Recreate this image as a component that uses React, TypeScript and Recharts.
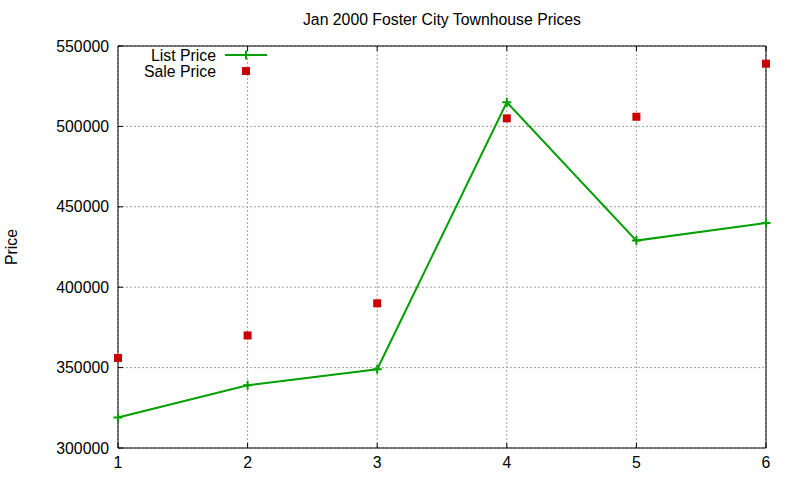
import React from 'react';
import { ComposedChart, Line, Scatter, XAxis, YAxis, CartesianGrid, Legend } from 'recharts';

const houses = [1, 2, 3, 4, 5, 6];
const listPrice = [319000, 339000, 349000, 515000, 429000, 440000];
const salePrice = [356000, 370000, 390000, 505000, 506000, 539000];

const yTicks = [300000, 350000, 400000, 450000, 500000, 550000];

const listData = houses.map((h, i) => ({ house: h, list: listPrice[i] }));
const saleData = houses.map((h, i) => ({ house: h, sale: salePrice[i] }));

const FONT = '"Liberation Sans", Arial, sans-serif';
const GREEN = '#00a000';
const RED = '#cc0000';

const LeftTick = (props: any) => {
    const { x, y, payload } = props;
    return (
        <g>
            <line x1={x} x2={x + 5} y1={y} y2={y} stroke="#000" />
            <text x={x - 9} y={y} textAnchor="end" dominantBaseline="central" fontSize={15.8} fontFamily={FONT} fill="#000">
                {payload.value}
            </text>
        </g>
    );
};

const RightTick = (props: any) => {
    const { x, y } = props;
    return <line x1={x - 5} x2={x} y1={y} y2={y} stroke="#000" />;
};

const BottomTick = (props: any) => {
    const { x, y, payload } = props;
    return (
        <g>
            <line x1={x} x2={x} y1={y - 5} y2={y} stroke="#000" />
            <text x={x} y={y + 14} textAnchor="middle" dominantBaseline="central" fontSize={15.8} fontFamily={FONT} fill="#000">
                {payload.value}
            </text>
        </g>
    );
};

const TopTick = (props: any) => {
    const { x, y } = props;
    return <line x1={x} x2={x} y1={y} y2={y + 5} stroke="#000" />;
};

const PlusDot = (props: any) => {
    const { cx, cy, index } = props;
    return (
        <path
            key={'p' + index}
            d={`M${cx - 4.5},${cy}H${cx + 4.5}M${cx},${cy - 4.5}V${cy + 4.5}`}
            stroke={GREEN}
            strokeWidth={2}
            fill="none"
        />
    );
};

const SquareShape = (props: any) => {
    const { cx, cy } = props;
    return <rect x={cx - 4} y={cy - 4} width={8} height={8} fill={RED} />;
};

const renderLegend = (props: any) => {
    const items = props.payload || [];
    return (
        <svg width={160} height={34}>
            {items.map((entry: any, i: number) => {
                const cy = 9 + i * 16;
                return (
                    <g key={entry.value}>
                        <text x={86} y={cy} textAnchor="end" dominantBaseline="central" fontSize={15.8} fontFamily={FONT} fill="#000">
                            {entry.value}
                        </text>
                        {entry.type === 'square' ? (
                            <rect x={112} y={cy - 4} width={8} height={8} fill={entry.color} />
                        ) : (
                            <path
                                d={`M95,${cy}H137M116,${cy - 4.5}V${cy + 4.5}`}
                                stroke={entry.color}
                                strokeWidth={2}
                                fill="none"
                            />
                        )}
                    </g>
                );
            })}
        </svg>
    );
};

export default function App() {
    return (
        <div style={{ position: 'absolute', left: 0, top: 0, width: 800, height: 480, background: '#fff', fontFamily: FONT }}>
            <div style={{ position: 'absolute', left: 118, top: 11, width: 648, height: 18, lineHeight: '18px', textAlign: 'center', fontSize: 15.8 }}>
                Jan 2000 Foster City Townhouse Prices
            </div>
            <div style={{ position: 'absolute', left: 12, top: 247, width: 0, height: 0 }}>
                <div style={{ position: 'absolute', transform: 'translate(-50%, -50%) rotate(-90deg)', fontSize: 15.8, whiteSpace: 'nowrap', lineHeight: '18px' }}>
                    Price
                </div>
            </div>
            <ComposedChart width={800} height={480} data={listData} margin={{ top: 0, right: 0, bottom: 0, left: 0 }}>
                <CartesianGrid stroke="#a0a0a0" strokeDasharray="2 2" />
                <XAxis
                    dataKey="house"
                    type="number"
                    domain={[1, 6]}
                    ticks={houses}
                    height={32}
                    tickSize={0}
                    tickMargin={0}
                    tickLine={false}
                    axisLine={{ stroke: '#000' }}
                    tick={BottomTick}
                    interval={0}
                />
                <XAxis
                    xAxisId="top"
                    orientation="top"
                    type="number"
                    domain={[1, 6]}
                    ticks={houses}
                    height={46}
                    tickSize={0}
                    tickMargin={0}
                    tickLine={false}
                    axisLine={{ stroke: '#000' }}
                    tick={TopTick}
                    interval={0}
                />
                <YAxis
                    type="number"
                    domain={[300000, 550000]}
                    ticks={yTicks}
                    width={118}
                    tickSize={0}
                    tickMargin={0}
                    tickLine={false}
                    axisLine={{ stroke: '#000' }}
                    tick={LeftTick}
                    interval={0}
                />
                <YAxis
                    yAxisId="right"
                    orientation="right"
                    type="number"
                    domain={[300000, 550000]}
                    ticks={yTicks}
                    width={34}
                    tickSize={0}
                    tickMargin={0}
                    tickLine={false}
                    axisLine={{ stroke: '#000' }}
                    tick={RightTick}
                    interval={0}
                />
                <Legend
                    layout="vertical"
                    align="center"
                    verticalAlign="middle"
                    content={renderLegend}
                    wrapperStyle={{ position: 'absolute', left: 130, top: 46, width: 160, height: 34 }}
                />
                <Line
                    name="List Price"
                    dataKey="list"
                    type="linear"
                    stroke={GREEN}
                    strokeWidth={2}
                    dot={PlusDot}
                    activeDot={false}
                    legendType="line"
                    isAnimationActive={false}
                />
                <Scatter
                    name="Sale Price"
                    data={saleData}
                    dataKey="sale"
                    fill={RED}
                    shape={SquareShape}
                    legendType="square"
                    isAnimationActive={false}
                />
            </ComposedChart>
        </div>
    );
}
